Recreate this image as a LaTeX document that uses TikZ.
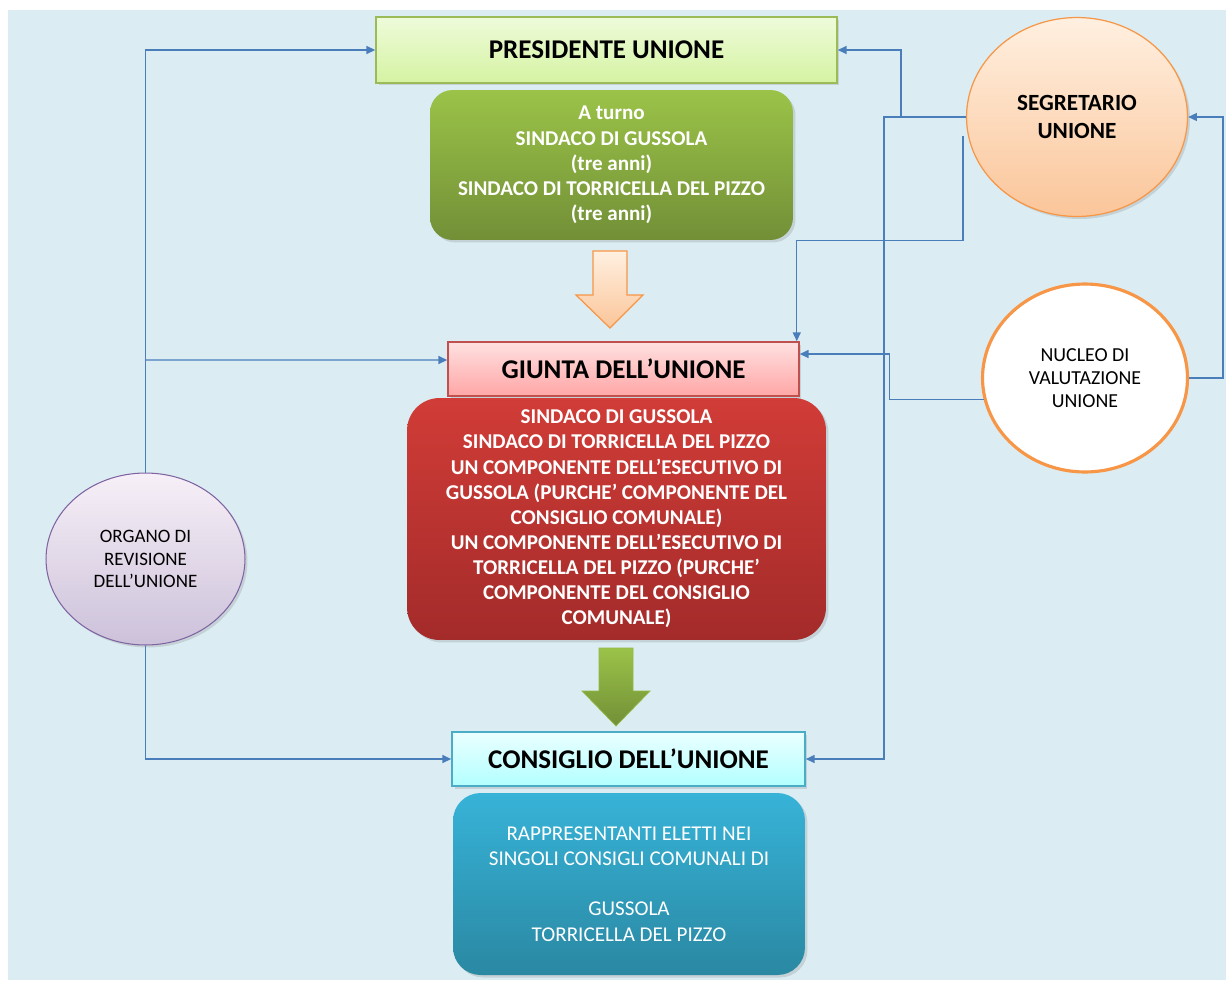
\documentclass[tikz,border=0pt]{standalone}
\usepackage{fontspec}
\setmainfont{Carlito}
\usetikzlibrary{arrows.meta,shapes.geometric,shadows}

\definecolor{bgblue}{HTML}{DBEDF3}
\definecolor{lineblue}{HTML}{4A7EBB}
\definecolor{presdraw}{HTML}{9BBB59}
\definecolor{prestop}{HTML}{EEFBDA}
\definecolor{presbot}{HTML}{D5F3A2}
\definecolor{olivetop}{HTML}{9BC348}
\definecolor{olivebot}{HTML}{728F37}
\definecolor{orangedraw}{HTML}{F79646}
\definecolor{redtop}{HTML}{D13C37}
\definecolor{redbot}{HTML}{A32B2A}
\definecolor{giuntadraw}{HTML}{C0504D}
\definecolor{consdraw}{HTML}{4BACC6}
\definecolor{aquatop}{HTML}{37B3D8}
\definecolor{aquabot}{HTML}{2A88A2}
\definecolor{violetdraw}{HTML}{8064A2}

\begin{document}
\begin{tikzpicture}[>={Triangle[length=5pt,width=4.5pt]}, x=0.02cm, y=-0.02cm,
  conn/.style={draw=lineblue, line width=0.8pt},
  shad/.style={drop shadow={opacity=0.25, shadow xshift=0.05cm, shadow yshift=-0.05cm}},
  titlebox/.style={draw, line width=0.9pt, minimum height=1.08cm, shad,
    font=\fontsize{15.4}{18}\selectfont\bfseries},
  infobox/.style={rounded corners=0.45cm, text=white, align=center, shad,
    font=\fontsize{12}{14.3}\selectfont\bfseries},
  roundnode/.style={ellipse, inner sep=0pt, align=center}]

\useasboundingbox (0,0) rectangle (1226,981);
\fill[white] (0,0) rectangle (1226,981);
\fill[bgblue] (8,10) rectangle (1226,980);

\node[titlebox, draw=presdraw, top color=prestop, bottom color=presbot,
  minimum width=9.22cm, minimum height=1.32cm] (pres) at (606.5,50) {PRESIDENTE UNIONE};

\node[infobox, top color=olivetop, bottom color=olivebot, minimum width=7.26cm, minimum height=3cm]
  (turno) at (611.5,165) {A turno\\SINDACO DI GUSSOLA\\(tre anni)\\SINDACO DI TORRICELLA DEL PIZZO\\(tre anni)};

\draw[draw=orangedraw, line width=0.7pt, top color=orange!12!white, bottom color=orangedraw!55!white]
  (593,251) -- (627,251) -- (627,295) -- (643,295) -- (610,328) -- (576,295) -- (593,295) -- cycle;

\node[titlebox, draw=giuntadraw, top color=red!12!white, bottom color=red!35!white,
  minimum width=7.02cm] (giunta) at (623.5,369) {GIUNTA DELL’UNIONE};

\node[infobox, rounded corners=0.65cm, top color=redtop, bottom color=redbot,
  minimum width=8.38cm, minimum height=4.84cm] (membri) at (616.5,519)
  {SINDACO DI GUSSOLA\\SINDACO DI TORRICELLA DEL PIZZO\\UN COMPONENTE DELL’ESECUTIVO DI\\
   GUSSOLA (PURCHE’ COMPONENTE DEL\\CONSIGLIO COMUNALE)\\UN COMPONENTE DELL’ESECUTIVO DI\\
   TORRICELLA DEL PIZZO (PURCHE’\\COMPONENTE DEL CONSIGLIO\\COMUNALE)};

\draw[top color=olivetop, bottom color=olivebot, draw=olivetop!80!olivebot, line width=0.4pt]
  (599,648) -- (633,648) -- (633,691) -- (650,691) -- (616,726) -- (582,691) -- (599,691) -- cycle;

\node[titlebox, draw=consdraw, top color=cyan!8!white, bottom color=cyan!30!white,
  minimum width=7.06cm] (cons) at (628.5,759) {CONSIGLIO DELL’UNIONE};

\node[infobox, rounded corners=0.55cm, top color=aquatop, bottom color=aquabot,
  minimum width=7.04cm, minimum height=3.64cm, font=\fontsize{12}{14.3}\selectfont] (eletti) at (629,884)
  {RAPPRESENTANTI ELETTI NEI\\SINGOLI CONSIGLI COMUNALI DI\\[14.3pt]GUSSOLA\\TORRICELLA DEL PIZZO};

\node[roundnode, draw=orangedraw, line width=0.7pt, top color=orange!12!white, bottom color=orangedraw!55!white,
  minimum width=4.42cm, minimum height=3.98cm, shad, font=\fontsize{13.2}{15.8}\selectfont\bfseries]
  (seg) at (1077,117) {SEGRETARIO\\UNIONE};

\node[roundnode, draw=orangedraw, line width=1.8pt, fill=white, minimum width=4.1cm, minimum height=3.76cm,
  font=\fontsize{11.3}{13.3}\selectfont] (nuc) at (1085,378) {NUCLEO DI\\VALUTAZIONE\\UNIONE};

\node[roundnode, draw=violetdraw, line width=0.6pt, top color=violet!6!white, bottom color=violetdraw!40!white,
  minimum width=3.98cm, minimum height=3.44cm, shad, font=\fontsize{10.8}{13}\selectfont]
  (org) at (145.5,559) {ORGANO DI\\REVISIONE\\DELL’UNIONE};

\draw[conn,->] (org.north) |- (pres.west);
\draw[conn,->] (org.north |- giunta.west) ++(0,-9) -- ([yshift=0.18cm]giunta.west);
\draw[conn,->] (org.south) |- (cons.west);

\draw[conn,->] (seg.west) -- ++(-65,0) |- (pres.east);
\draw[conn,->] (seg.west) -- ++(-82,0) |- (cons.east);
\draw[conn,->] ([xshift=-0.1cm]seg.190) -- ++(0,104) -| ([xshift=-0.06cm]giunta.north east);

\draw[conn,->] (nuc.192) -- ++(-94,0) |- ([yshift=0.3cm]giunta.east);
\draw[conn,->] (nuc.east) -- ++(34,0) |- (seg.east);

\end{tikzpicture}
\end{document}
